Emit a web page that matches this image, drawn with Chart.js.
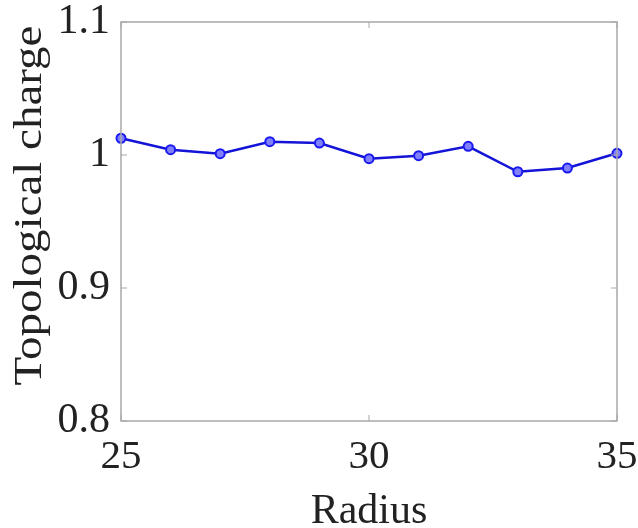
<!DOCTYPE html>
<html>
<head>
<meta charset="utf-8">
<script src="https://cdn.jsdelivr.net/npm/chart.js@4.4.0/dist/chart.umd.min.js"></script>
<style>
html,body{margin:0;padding:0;background:#fff;}
#wrap{width:638px;height:528px;}
</style>
</head>
<body>
<div id="wrap"><canvas id="c" width="638" height="528"></canvas></div>
<script>
const radius = [25, 26, 27, 28, 29, 30, 31, 32, 33, 34, 35];
const charge = [1.0126, 1.0040, 1.0010, 1.0100, 1.0090, 0.9972, 0.9995, 1.0065, 0.9874, 0.9902, 1.0013];
const xTicks = [25, 30, 35];
const yTicks = [0.8, 0.9, 1.0, 1.1];
const xTitle = 'Radius';
const yTitle = 'Topological charge';

const FONT = 'Liberation Serif, Times New Roman, serif';
const fmt = v => String(Number(v.toFixed(3)));

const boxPlugin = {
  id: 'box',
  afterDraw(chart) {
    const {ctx, chartArea: a, scales} = chart;
    ctx.save();
    ctx.strokeStyle = '#a8a8a8';
    ctx.lineWidth = 1.5;
    ctx.strokeRect(a.left, a.top, a.right - a.left, a.bottom - a.top);
    ctx.lineWidth = 1;
    const L = 6;
    ctx.beginPath();
    xTicks.forEach(v => {
      const px = scales.x.getPixelForValue(v);
      ctx.moveTo(px, a.bottom); ctx.lineTo(px, a.bottom - L);
      ctx.moveTo(px, a.top); ctx.lineTo(px, a.top + L);
    });
    yTicks.forEach(v => {
      const py = scales.y.getPixelForValue(v);
      ctx.moveTo(a.left, py); ctx.lineTo(a.left + L, py);
      ctx.moveTo(a.right, py); ctx.lineTo(a.right - L, py);
    });
    ctx.stroke();
    // y-axis title
    ctx.save();
    ctx.translate(31, (a.top + a.bottom) / 2 - 16);
    ctx.rotate(-Math.PI / 2);
    ctx.scale(1, 0.85);
    ctx.font = '47px ' + FONT;
    ctx.fillStyle = '#222';
    ctx.textAlign = 'center';
    ctx.textBaseline = 'middle';
    ctx.fillText(yTitle, 0, 0);
    ctx.restore();
    // x-axis title
    ctx.save();
    ctx.font = '42px ' + FONT;
    ctx.fillStyle = '#222';
    ctx.textAlign = 'center';
    ctx.textBaseline = 'alphabetic';
    ctx.fillText(xTitle, (a.left + a.right) / 2, a.bottom + 102);
    ctx.restore();
    ctx.restore();
  }
};

new Chart(document.getElementById('c'), {
  type: 'line',
  data: {
    datasets: [{
      data: radius.map((r, i) => ({x: r, y: charge[i]})),
      borderColor: '#1414d8',
      borderWidth: 2.5,
      pointRadius: 4.5,
      pointBorderWidth: 2,
      pointBorderColor: '#1a1af0',
      pointBackgroundColor: '#8080ff',
      tension: 0,
      clip: false
    }]
  },
  options: {
    responsive: false,
    animation: false,
    devicePixelRatio: 1,
    layout: {padding: {left: 0, right: 21, top: 22, bottom: 0}},
    plugins: {legend: {display: false}, tooltip: {enabled: false}},
    scales: {
      x: {
        type: 'linear', min: 25, max: 35,
        afterBuildTicks: s => { s.ticks = xTicks.map(v => ({value: v})); },
        afterFit: s => { s.height = 107; s.paddingLeft = 0; s.paddingRight = 0; },
        grid: {display: false, drawTicks: false},
        border: {display: false},
        ticks: {font: {family: FONT, size: 41}, color: '#222', padding: 12, maxRotation: 0, callback: v => fmt(v)},
        title: {display: false}
      },
      y: {
        type: 'linear', min: 0.8, max: 1.1,
        afterBuildTicks: s => { s.ticks = yTicks.map(v => ({value: v})); },
        afterFit: s => { s.width = 121; s.paddingTop = 0; s.paddingBottom = 0; },
        grid: {display: false, drawTicks: false},
        border: {display: false},
        ticks: {font: {family: FONT, size: 42}, color: '#222', padding: 11, callback: v => fmt(v)},
        title: {display: false}
      }
    }
  },
  plugins: [boxPlugin]
});
</script>
</body>
</html>
